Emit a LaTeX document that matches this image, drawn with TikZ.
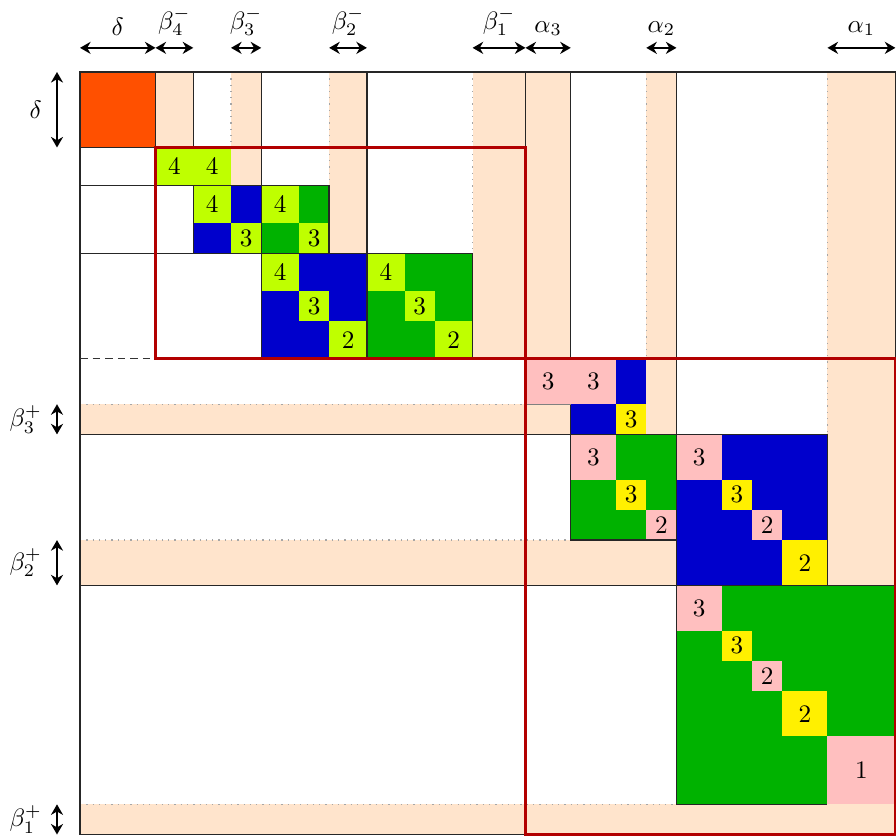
\documentclass[tikz,border=0pt]{standalone}
\usetikzlibrary{arrows.meta}
\definecolor{peach}{RGB}{255,228,204}
\definecolor{deltared}{RGB}{255,80,0}
\definecolor{limecell}{RGB}{191,255,0}
\definecolor{bluecell}{RGB}{0,0,204}
\definecolor{greencell}{RGB}{0,178,0}
\definecolor{pinkcell}{RGB}{255,191,191}
\definecolor{yellowcell}{RGB}{255,240,0}
\definecolor{framered}{RGB}{178,0,0}
\begin{document}
\begin{tikzpicture}[x=3pt,y=-3pt,
  band/.style={fill=peach},
  blk/.style={draw=black!85,line width=0.55pt},
  bandedge/.style={gray!70,dotted,line width=0.5pt},
  frame/.style={draw=framered,line width=1.2pt},
  dim/.style={{Stealth[length=4.2pt,width=4.8pt]}-{Stealth[length=4.2pt,width=4.8pt]},line width=0.8pt},
  num/.style={inner sep=0pt}]
\useasboundingbox (-10.6,-9.54) rectangle (108.08,101.6);
% bands
\fill[band] (10,0) rectangle (15,10); \fill[band] (20,0) rectangle (24,15); \fill[band] (33,0) rectangle (38,24);
\fill[band] (52,0) rectangle (65,38); \fill[band] (75,0) rectangle (79,48); \fill[band] (99,0) rectangle (108,68);
\fill[band] (0,44) rectangle (65,48); \fill[band] (0,62) rectangle (79,68); \fill[band] (0,97) rectangle (108,101);
\draw[bandedge] (20,0)--(20,10); \draw[bandedge] (33,0)--(33,15); \draw[bandedge] (52,0)--(52,24);
\draw[bandedge] (75,0)--(75,38); \draw[bandedge] (99,0)--(99,48);
\draw[bandedge] (0,44)--(59,44); \draw[bandedge] (0,62)--(65,62); \draw[bandedge] (0,97)--(79,97);
% upper blocks
\fill[deltared] (0,0) rectangle (10,10);
\fill[limecell] (10,10) rectangle (20,15);
\fill[bluecell] (15,15) rectangle (24,24); \fill[greencell] (24,15) rectangle (33,24);
\fill[bluecell] (24,24) rectangle (38,38); \fill[greencell] (38,24) rectangle (52,38);
\fill[limecell] (15,15) rectangle (20,20); \fill[limecell] (20,20) rectangle (24,24);
\fill[limecell] (24,15) rectangle (29,20); \fill[limecell] (29,20) rectangle (33,24);
\fill[limecell] (24,24) rectangle (29,29); \fill[limecell] (29,29) rectangle (33,33); \fill[limecell] (33,33) rectangle (38,38);
\fill[limecell] (38,24) rectangle (43,29); \fill[limecell] (43,29) rectangle (47,33); \fill[limecell] (47,33) rectangle (52,38);
% lower blocks
\fill[bluecell] (65,38) rectangle (75,48); \fill[pinkcell] (59,38) rectangle (71,44); \fill[yellowcell] (71,44) rectangle (75,48);
\fill[greencell] (65,48) rectangle (79,62);
\fill[pinkcell] (65,48) rectangle (71,54); \fill[yellowcell] (71,54) rectangle (75,58); \fill[pinkcell] (75,58) rectangle (79,62);
\fill[bluecell] (79,48) rectangle (99,68);
\fill[pinkcell] (79,48) rectangle (85,54); \fill[yellowcell] (85,54) rectangle (89,58);
\fill[pinkcell] (89,58) rectangle (93,62); \fill[yellowcell] (93,62) rectangle (99,68);
\fill[greencell] (79,68) rectangle (108,97);
\fill[pinkcell] (79,68) rectangle (85,74); \fill[yellowcell] (85,74) rectangle (89,78);
\fill[pinkcell] (89,78) rectangle (93,82); \fill[yellowcell] (93,82) rectangle (99,88); \fill[pinkcell] (99,88) rectangle (108,97);
% outlines
\draw[blk] (0,0) rectangle (108,101); \draw[blk] (0,0) rectangle (10,10);
\draw[blk] (15,15) rectangle (24,24); \draw[blk] (24,15) rectangle (33,24);
\draw[blk] (24,24) rectangle (38,38); \draw[blk] (38,24) rectangle (52,38);
\draw[blk] (65,48) rectangle (79,62); \draw[blk] (79,48) rectangle (99,68);
\draw[blk] (99,68)--(79,68)--(79,97)--(99,97);
\draw[blk] (15,0)--(15,10); \draw[blk] (24,0)--(24,15); \draw[blk] (38,0)--(38,24);
\draw[blk] (59,0)--(59,38); \draw[blk] (65,0)--(65,38); \draw[blk] (79,0)--(79,48);
\draw[blk] (65,44)--(65,48); \draw[black!50,line width=0.45pt] (59,44)--(65,44);
\draw[blk] (0,15)--(15,15); \draw[blk] (0,24)--(15,24); \draw[black!80,densely dashed,line width=0.45pt] (0,38)--(10,38);
\draw[blk] (0,48)--(79,48); \draw[blk] (0,68)--(108,68);
% frames
\draw[frame] (10,10) rectangle (59,38); \draw[frame] (59,38) rectangle (108,101);
% numbers
\node[num] (u1) at (12.5,12.5) {4}; \node[num] (u2) at (17.5,12.5) {4}; \node[num] (u3) at (17.5,17.5) {4};
\node[num] (u4) at (26.5,17.5) {4}; \node[num] (u5) at (22,22) {3}; \node[num] (u6) at (31,22) {3};
\node[num] (u7) at (26.5,26.5) {4}; \node[num] (u8) at (40.5,26.5) {4}; \node[num] (u9) at (31,31) {3};
\node[num] (u10) at (45,31) {3}; \node[num] (u11) at (35.5,35.5) {2}; \node[num] (u12) at (49.5,35.5) {2};
\node[num] (w1) at (62,41) {3}; \node[num] (w2) at (68,41) {3}; \node[num] (w3) at (73,46) {3};
\node[num] (w4) at (68,51) {3}; \node[num] (w5) at (73,56) {3}; \node[num] (w6) at (77,60) {2};
\node[num] (w7) at (82,51) {3}; \node[num] (w8) at (87,56) {3}; \node[num] (w9) at (91,60) {2}; \node[num] (w10) at (96,65) {2};
\node[num] (w11) at (82,71) {3}; \node[num] (w12) at (87,76) {3}; \node[num] (w13) at (91,80) {2};
\node[num] (w14) at (96,85) {2}; \node[num] (w15) at (103.5,92.5) {1};
% sizes, top
\draw[dim] (0,-3.2)--(10,-3.2) node[midway,above=1pt] (tdelta) {$\delta$};
\draw[dim] (10,-3.2)--(15,-3.2) node[midway,above=1pt] (tb4) {$\beta_4^-$};
\draw[dim] (20,-3.2)--(24,-3.2) node[midway,above=1pt] (tb3) {$\beta_3^-$};
\draw[dim] (33,-3.2)--(38,-3.2) node[midway,above=1pt] (tb2) {$\beta_2^-$};
\draw[dim] (52,-3.2)--(59,-3.2) node[midway,above=1pt] (tb1) {$\beta_1^-$};
\draw[dim] (59,-3.2)--(65,-3.2) node[midway,above=1pt] (ta3) {$\alpha_3$};
\draw[dim] (75,-3.2)--(79,-3.2) node[midway,above=1pt] (ta2) {$\alpha_2$};
\draw[dim] (99,-3.2)--(108,-3.2) node[midway,above=1pt] (ta1) {$\alpha_1$};
% sizes, left
\draw[dim] (-3.05,0)--(-3.05,10) node[midway,left=2.3pt] (ldelta) {$\delta$};
\draw[dim] (-3.05,44)--(-3.05,48) node[midway,left=2.3pt] (lb3) {$\beta_3^+$};
\draw[dim] (-3.05,62)--(-3.05,68) node[midway,left=2.3pt] (lb2) {$\beta_2^+$};
\draw[dim] (-3.05,97)--(-3.05,101) node[midway,left=2.3pt] (lb1) {$\beta_1^+$};
\end{tikzpicture}
\end{document}
